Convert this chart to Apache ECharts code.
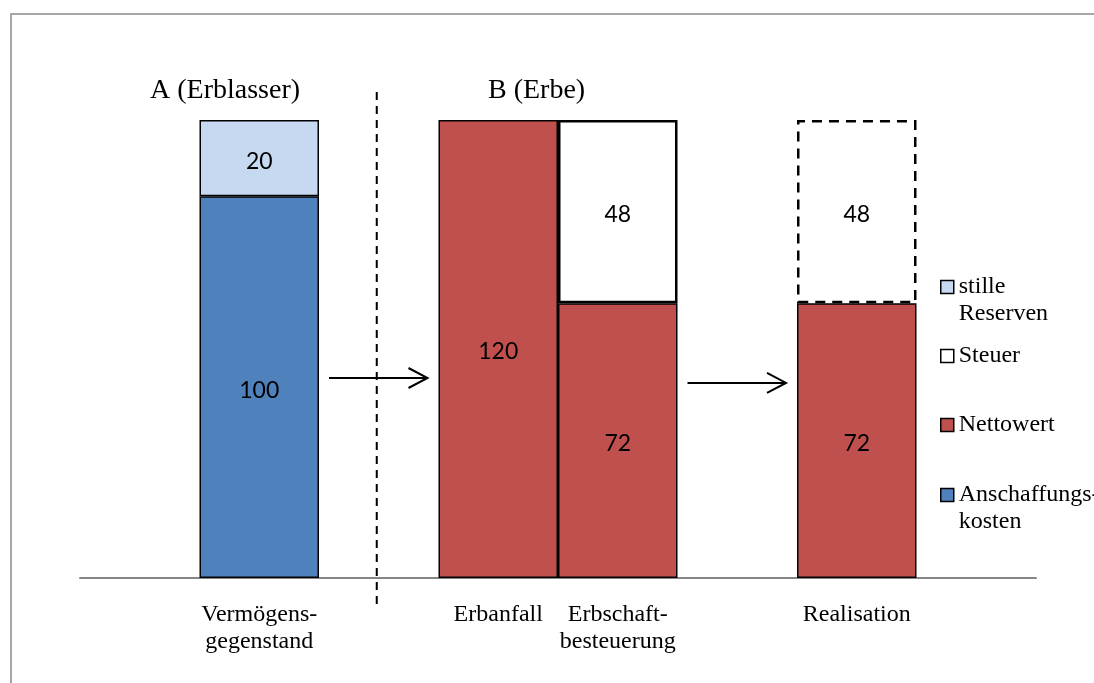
<!DOCTYPE html>
<html>
<head>
<meta charset="utf-8">
<script src="https://cdn.jsdelivr.net/npm/echarts@6/dist/echarts.min.js"></script>
<style>
  html, body { margin: 0; padding: 0; background: #fff; }
  #chart { width: 1094px; height: 683px; }
</style>
</head>
<body>
<div id="chart"></div>
<script>
// Categories along the x axis (empty slots leave gaps between the groups)
const categories = ['', 'Vermögens-\ngegenstand', '', 'Erbanfall', 'Erbschaft-\nbesteuerung', '', 'Realisation', ''];

// Stacked values per category
const anschaffungskosten = ['-', 100, '-', '-', '-', '-', '-', '-'];
const stilleReserven     = ['-', 20,  '-', '-', '-', '-', '-', '-'];
const nettowert          = ['-', '-', '-', 120, 72, '-', 72, '-'];
const steuer             = ['-', '-', '-', '-', 48, '-', 48, '-'];

// Group headings
const groupTitles = ['A (Erblasser)', 'B (Erbe)'];

// Legend entries, top to bottom, with their wrapped captions
const legendOrder = ['stille Reserven', 'Steuer', 'Nettowert', 'Anschaffungskosten'];
const legendCaptions = {
  'stille Reserven': 'stille\nReserven',
  'Steuer': 'Steuer',
  'Nettowert': 'Nettowert',
  'Anschaffungskosten': 'Anschaffungs-\nkosten'
};

// The tax that would only fall due on a sale is outlined with a dashed border
const hypotheticalCategory = 'Realisation';

const SERIF = '"Liberation Serif", "Times New Roman", serif';
const SANS = 'Lato, "Noto Sans", sans-serif';
const LINE = 27;

const chart = echarts.init(document.getElementById('chart'), null, { renderer: 'canvas' });

const barLabel = {
  show: true,
  position: 'inside',
  offset: [0, 3],
  fontFamily: SANS,
  fontSize: 23,
  color: '#000',
  formatter: '{c}'
};

const steuerData = steuer.map((v, i) =>
  categories[i] === hypotheticalCategory
    ? { value: v, itemStyle: { borderType: [10, 7], borderWidth: 2.5 } }
    : v
);

const legendTops = [246.5, 342.5, 411.5, 454.5];

// Two-line captions get a blank leading line so the swatch sits beside the first line
const captionFor = n => {
  const c = legendCaptions[n];
  return c.indexOf('\n') >= 0 ? ' \n' + c : c;
};

const option = {
  animation: false,
  backgroundColor: '#fff',
  title: [
    { text: groupTitles[0], left: 150, top: 77, padding: 0,
      textStyle: { fontFamily: SERIF, fontSize: 28, fontWeight: 'normal', color: '#000' } },
    { text: groupTitles[1], left: 488, top: 77, padding: 0,
      textStyle: { fontFamily: SERIF, fontSize: 28, fontWeight: 'normal', color: '#000' } }
  ],
  legend: legendOrder.map((name, i) => ({
    data: [name],
    orient: 'vertical',
    left: 940,
    top: legendTops[i],
    padding: 0,
    itemWidth: 13,
    itemHeight: 13,
    icon: 'rect',
    selectedMode: false,
    itemStyle: { borderColor: '#000', borderWidth: 1.5 },
    formatter: captionFor,
    textStyle: {
      fontFamily: SERIF,
      fontSize: 24,
      lineHeight: LINE,
      color: '#000'
    }
  })),
  grid: { left: 80, right: 58, top: 120, bottom: 105, containLabel: false },
  xAxis: {
    type: 'category',
    data: categories,
    axisLine: { show: true, lineStyle: { color: '#868686', width: 2 } },
    axisTick: { show: false },
    splitLine: { show: false },
    axisLabel: {
      interval: 0,
      margin: 23,
      fontFamily: SERIF,
      fontSize: 24,
      lineHeight: LINE,
      color: '#000',
      verticalAlign: 'top'
    }
  },
  yAxis: { type: 'value', min: 0, max: 120, show: false },
  series: [
    {
      name: 'Anschaffungskosten', type: 'bar', stack: 'total', barWidth: '100%',
      data: anschaffungskosten,
      itemStyle: { color: '#4F81BD', borderColor: '#000', borderWidth: 1.5 },
      label: barLabel
    },
    {
      name: 'stille Reserven', type: 'bar', stack: 'total', barWidth: '100%',
      data: stilleReserven,
      itemStyle: { color: '#C6D9F1', borderColor: '#000', borderWidth: 1.5 },
      label: barLabel
    },
    {
      name: 'Nettowert', type: 'bar', stack: 'total', barWidth: '100%',
      data: nettowert,
      itemStyle: { color: '#C0504D', borderColor: '#000', borderWidth: 1.5 },
      label: barLabel
    },
    {
      name: 'Steuer', type: 'bar', stack: 'total', barWidth: '100%',
      data: steuerData,
      itemStyle: { color: '#fff', borderColor: '#000', borderWidth: 2.5 },
      label: barLabel
    }
  ]
};

chart.setOption(option);

// Annotations placed through the chart's own coordinate system
const toPx = (cat, val) => chart.convertToPixel({ gridIndex: 0 }, [cat, val]);
const halfBar = (toPx(1, 0)[0] - toPx(0, 0)[0]) / 2;
const baseY = toPx(0, 0)[1];
const topY = toPx(0, 120)[1];

// Transition arrows: from one bar to the next, at a given height
const arrowSpecs = [
  { from: 1, to: 3, at: 52.4 },
  { from: 4, to: 6, at: 51.1 }
];

const graphics = [
  // frame around the whole figure
  { type: 'rect', silent: true, shape: { x: 11, y: 14, width: 1200, height: 800 },
    style: { fill: 'none', stroke: '#a6a6a6', lineWidth: 2 } },
  // dashed separator between the two parties
  { type: 'line', silent: true,
    shape: { x1: toPx(2, 0)[0] - 2, y1: topY - 28, x2: toPx(2, 0)[0] - 2, y2: baseY + 32 },
    style: { stroke: '#000', lineWidth: 2, lineDash: [8, 6] } }
];

arrowSpecs.forEach(a => {
  const y = toPx(a.from, a.at)[1];
  const x1 = toPx(a.from, 0)[0] + halfBar + 10;
  const x2 = toPx(a.to, 0)[0] - halfBar - 11;
  graphics.push({ type: 'line', silent: true,
    shape: { x1: x1, y1: y, x2: x2, y2: y },
    style: { stroke: '#000', lineWidth: 2 } });
  graphics.push({ type: 'polyline', silent: true,
    shape: { points: [[x2 - 19, y - 10], [x2, y], [x2 - 19, y + 10]] },
    style: { stroke: '#000', lineWidth: 2, fill: 'none' } });
});

chart.setOption({ graphic: graphics });
</script>
</body>
</html>
